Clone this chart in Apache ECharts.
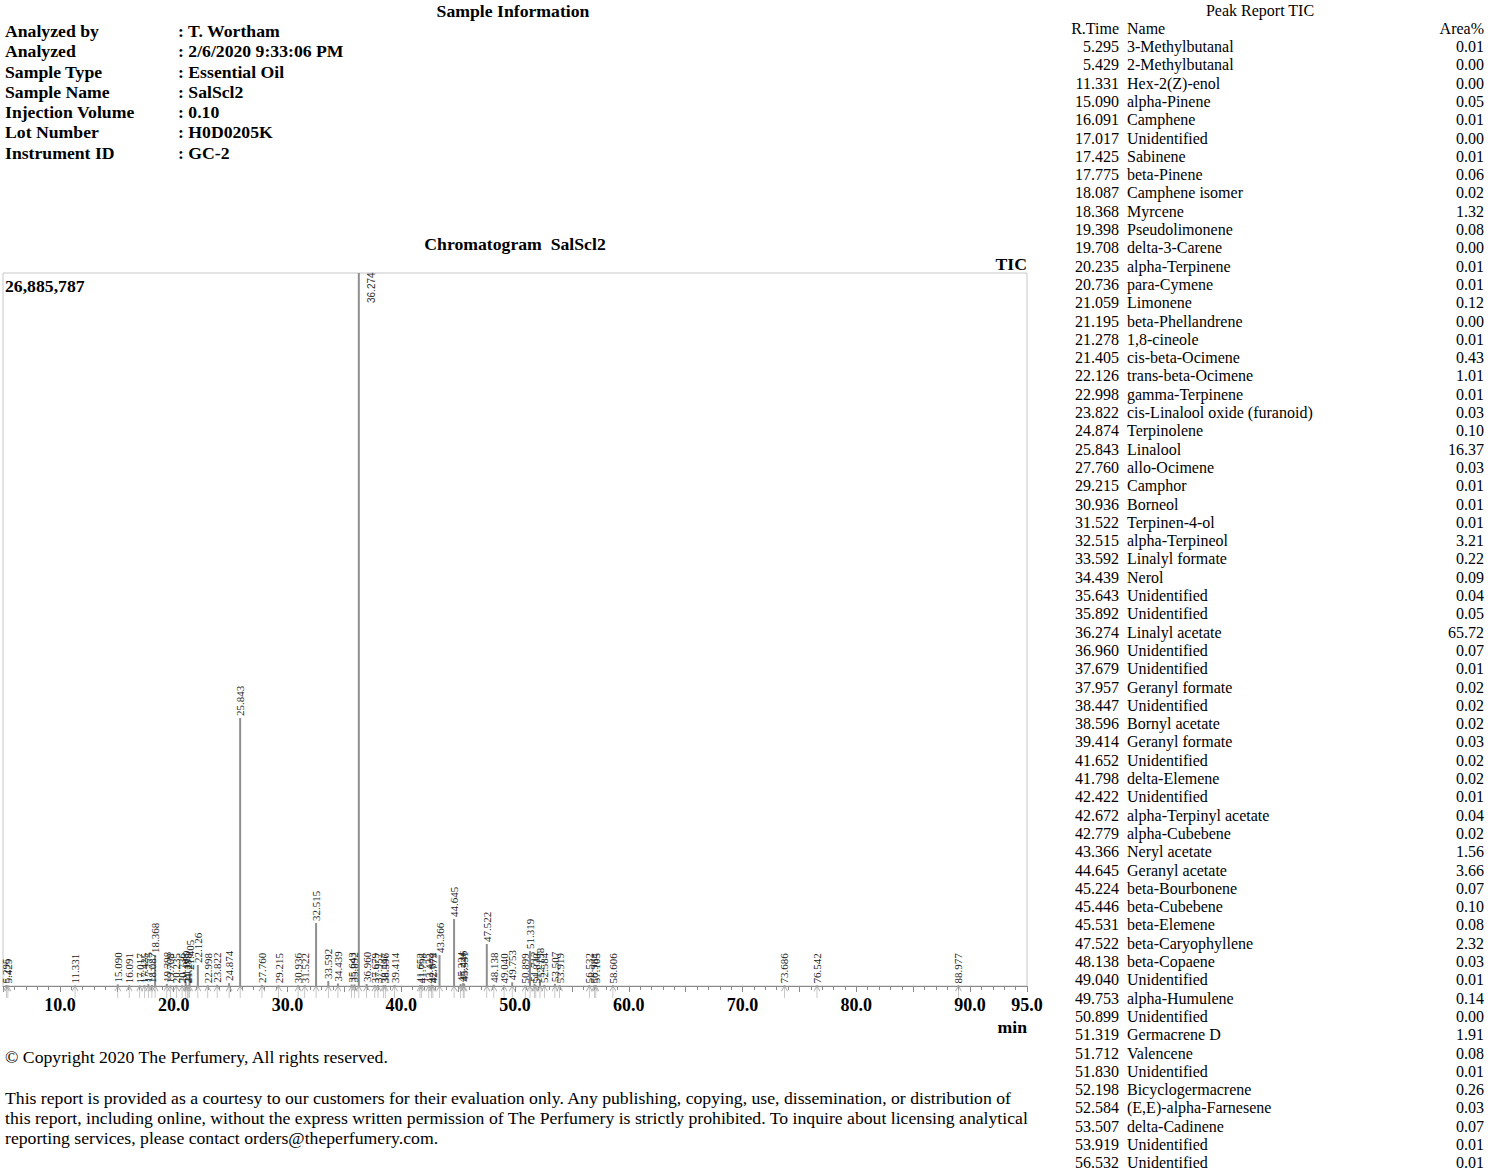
<!DOCTYPE html>
<html><head><meta charset="utf-8">
<script src="https://cdn.jsdelivr.net/npm/echarts@6/dist/echarts.min.js"></script>
<style>
html,body{margin:0;padding:0;background:#fff;}
body{width:1500px;height:1174px;position:relative;overflow:hidden;font-family:'Liberation Serif','Times New Roman',serif;color:#000;}
#chart{position:absolute;left:0;top:0;width:1500px;height:1174px;}
.t{position:absolute;white-space:nowrap;}
.b{font-weight:bold;font-size:17.7px;line-height:20px;}
.n{font-size:17.7px;line-height:20px;}
.r{font-size:16px;line-height:18px;}
</style>
</head><body>
<div id="chart"></div>
<div id="texts"></div>
<script>
// ---------------- data ----------------
const sampleLabels = ['Analyzed by', 'Analyzed', 'Sample Type', 'Sample Name', 'Injection Volume', 'Lot Number', 'Instrument ID'];
const sampleValues = [': T. Wortham', ': 2/6/2020 9:33:06 PM', ': Essential Oil', ': SalScl2', ': 0.10', ': H0D0205K', ': GC-2'];

const reportTimes = ['5.295','5.429','11.331','15.090','16.091','17.017','17.425','17.775','18.087','18.368','19.398','19.708','20.235','20.736','21.059','21.195','21.278','21.405','22.126','22.998','23.822','24.874','25.843','27.760','29.215','30.936','31.522','32.515','33.592','34.439','35.643','35.892','36.274','36.960','37.679','37.957','38.447','38.596','39.414','41.652','41.798','42.422','42.672','42.779','43.366','44.645','45.224','45.446','45.531','47.522','48.138','49.040','49.753','50.899','51.319','51.712','51.830','52.198','52.584','53.507','53.919','56.532'];
const reportNames = ['3-Methylbutanal','2-Methylbutanal','Hex-2(Z)-enol','alpha-Pinene','Camphene','Unidentified','Sabinene','beta-Pinene','Camphene isomer','Myrcene','Pseudolimonene','delta-3-Carene','alpha-Terpinene','para-Cymene','Limonene','beta-Phellandrene','1,8-cineole','cis-beta-Ocimene','trans-beta-Ocimene','gamma-Terpinene','cis-Linalool oxide (furanoid)','Terpinolene','Linalool','allo-Ocimene','Camphor','Borneol','Terpinen-4-ol','alpha-Terpineol','Linalyl formate','Nerol','Unidentified','Unidentified','Linalyl acetate','Unidentified','Unidentified','Geranyl formate','Unidentified','Bornyl acetate','Geranyl formate','Unidentified','delta-Elemene','Unidentified','alpha-Terpinyl acetate','alpha-Cubebene','Neryl acetate','Geranyl acetate','beta-Bourbonene','beta-Cubebene','beta-Elemene','beta-Caryophyllene','beta-Copaene','Unidentified','alpha-Humulene','Unidentified','Germacrene D','Valencene','Unidentified','Bicyclogermacrene','(E,E)-alpha-Farnesene','delta-Cadinene','Unidentified','Unidentified'];
const reportAreas = ['0.01','0.00','0.00','0.05','0.01','0.00','0.01','0.06','0.02','1.32','0.08','0.00','0.01','0.01','0.12','0.00','0.01','0.43','1.01','0.01','0.03','0.10','16.37','0.03','0.01','0.01','0.01','3.21','0.22','0.09','0.04','0.05','65.72','0.07','0.01','0.02','0.02','0.02','0.03','0.02','0.02','0.01','0.04','0.02','1.56','3.66','0.07','0.10','0.08','2.32','0.03','0.01','0.14','0.00','1.91','0.08','0.01','0.26','0.03','0.07','0.01','0.01'];

// chromatogram peaks (retention time, min) and estimated peak heights (counts)
const peakTimes = [5.295,5.429,11.331,15.090,16.091,17.017,17.425,17.775,18.087,18.368,19.398,19.708,20.235,20.736,21.059,21.195,21.278,21.405,22.126,22.998,23.822,24.874,25.843,27.760,29.215,30.936,31.522,32.515,33.592,34.439,35.643,35.892,36.274,36.960,37.679,37.957,38.447,38.596,39.414,41.652,41.798,42.422,42.672,42.779,43.366,44.645,45.224,45.446,45.531,47.522,48.138,49.040,49.753,50.899,51.319,51.712,51.830,52.198,52.584,53.507,53.919,56.532,56.984,57.105,58.606,73.686,76.542,88.977];
const peakHeights = [30000,20000,15000,60000,25000,15000,25000,70000,35000,1169000,80000,15000,25000,25000,120000,15000,25000,528000,792000,25000,45000,110000,10106000,40000,25000,25000,25000,2376000,190000,95000,55000,60000,26885787,75000,25000,35000,30000,30000,40000,30000,30000,20000,50000,30000,1169000,2526000,75000,110000,85000,1584000,45000,20000,140000,15000,1320000,85000,20000,230000,40000,80000,25000,25000,20000,25000,20000,15000,15000,15000];

const yMaxValue = 26885787;
const yMaxLabel = '26,885,787';
const xLabelValues = [10, 20, 30, 40, 50, 60, 70, 80, 90, 95];

// ---------------- html texts ----------------
const box = document.getElementById('texts');
function addText(cls, txt, left, cy, lh, extra) {
  const d = document.createElement('div');
  d.className = 't ' + cls;
  d.textContent = txt;
  d.style.left = left + 'px';
  d.style.top = (cy - lh / 2) + 'px';
  if (extra) Object.assign(d.style, extra);
  box.appendChild(d);
  return d;
}
addText('b', 'Sample Information', 0, 11, 20, {width: '1026px', textAlign: 'center'});
sampleLabels.forEach((s, i) => {
  const cy = 31 + i * 20.25;
  addText('b', s, 5, cy, 20);
  addText('b', sampleValues[i], 178, cy, 20);
});
addText('n', '\u00A9 Copyright 2020 The Perfumery, All rights reserved.', 5, 1057, 20);
addText('n', 'This report is provided as a courtesy to our customers for their evaluation only. Any publishing, copying, use, dissemination, or distribution of', 5, 1098, 20);
addText('n', 'this report, including online, without the express written permission of The Perfumery is strictly prohibited. To inquire about licensing analytical', 5, 1118, 20);
addText('n', 'reporting services, please contact orders@theperfumery.com.', 5, 1138, 20);

addText('r', 'Peak Report TIC', 1160, 11, 18, {width: '200px', textAlign: 'center'});
addText('r', 'R.Time', 1039, 29, 18, {width: '80px', textAlign: 'right'});
addText('r', 'Name', 1127, 29, 18);
addText('r', 'Area%', 1404, 29, 18, {width: '80px', textAlign: 'right'});
reportTimes.forEach((rt, i) => {
  const cy = 47 + i * 18.3;
  addText('r', rt, 1039, cy, 18, {width: '80px', textAlign: 'right'});
  addText('r', reportNames[i], 1127, cy, 18);
  addText('r', reportAreas[i], 1404, cy, 18, {width: '80px', textAlign: 'right'});
});

// ---------------- chart ----------------
const chart = echarts.init(document.getElementById('chart'), null, {renderer: 'svg'});
const serif = "'Liberation Serif','Times New Roman',serif";
const peakData = peakTimes.map((t, i) => {
  const item = {value: [t, peakHeights[i]]};
  if (peakHeights[i] >= yMaxValue) {
    item.label = {position: [14, 30], fontFamily: "'Liberation Sans',Arial,sans-serif", fontSize: 10, color: '#333'};
  }
  return item;
});
const arrowPath = 'path://M0,6 L4,0 L8,6 M4,0 L4,14';
chart.setOption({
  animation: false,
  backgroundColor: '#fff',
  grid: {left: 3, top: 273, width: 1024, height: 713, show: true, borderColor: '#c8c8c8', borderWidth: 1, backgroundColor: 'transparent'},
  xAxis: {
    type: 'value', min: 5, max: 95, interval: 5,
    axisLine: {show: true, lineStyle: {color: '#8a8a8a', width: 1}},
    axisTick: {show: true, length: 6, lineStyle: {color: '#8a8a8a'}},
    minorTick: {show: true, splitNumber: 5, length: 4, lineStyle: {color: '#8a8a8a'}},
    splitLine: {show: false},
    axisLabel: {
      show: true, margin: 10, fontFamily: serif, fontWeight: 'bold', fontSize: 18, color: '#000',
      showMinLabel: false, showMaxLabel: true,
      formatter: v => xLabelValues.includes(v) ? v.toFixed(1) : ''
    }
  },
  yAxis: {
    type: 'value', min: 0, max: yMaxValue,
    axisLine: {show: false}, axisTick: {show: false}, axisLabel: {show: false}, splitLine: {show: false}
  },
  graphic: [
    {type: 'text', x: 515, y: 244, style: {text: 'Chromatogram  SalScl2', font: 'bold 17.7px ' + serif, fill: '#000', align: 'center', verticalAlign: 'middle'}},
    {type: 'text', x: 1027, y: 264, style: {text: 'TIC', font: 'bold 17.7px ' + serif, fill: '#000', align: 'right', verticalAlign: 'middle'}},
    {type: 'text', x: 5, y: 286, style: {text: yMaxLabel, font: 'bold 17.7px ' + serif, fill: '#000', align: 'left', verticalAlign: 'middle'}},
    {type: 'text', x: 1027, y: 1027, style: {text: 'min', font: 'bold 17.7px ' + serif, fill: '#000', align: 'right', verticalAlign: 'middle'}}
  ],
  series: [
    {
      type: 'bar', barWidth: 2, data: peakData, z: 3,
      itemStyle: {color: '#8f8f8f'},
      label: {
        show: true, position: 'top', distance: 2, rotate: 90, align: 'left', verticalAlign: 'middle',
        fontFamily: serif, fontSize: 11, color: '#222',
        formatter: p => p.value[0].toFixed(3)
      }
    },
    {
      type: 'scatter', z: 2, silent: true,
      data: peakTimes.map(t => [t, 0]),
      symbol: arrowPath, symbolSize: [6, 12], symbolOffset: [0, 6],
      itemStyle: {color: 'rgba(0,0,0,0)', borderColor: '#a0a0a0', borderWidth: 1}
    }
  ]
});
</script>
</body></html>
